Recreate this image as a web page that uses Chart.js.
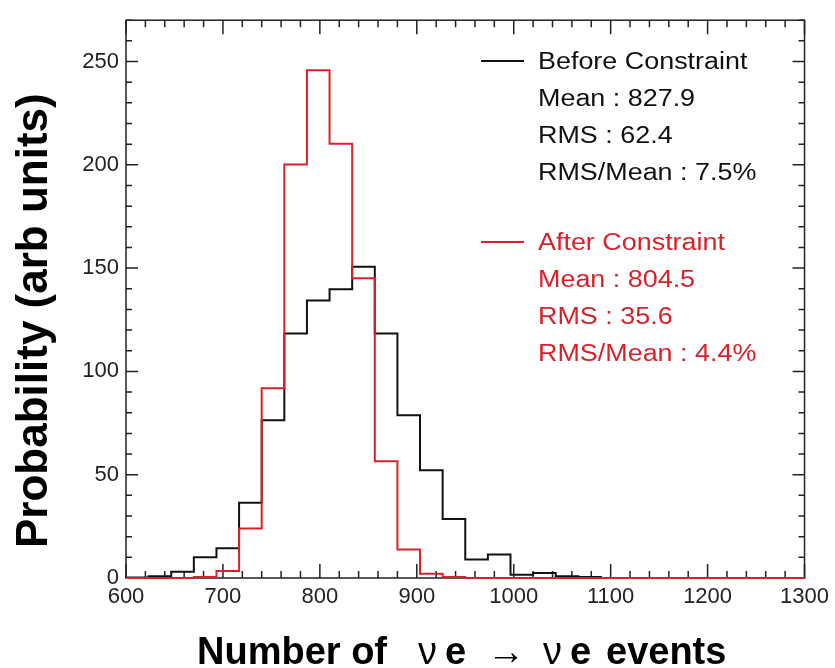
<!DOCTYPE html>
<html lang="en">
<head>
  <meta charset="UTF-8">
  <title>Number of nu e events</title>
  <script src="https://cdn.jsdelivr.net/npm/chart.js"></script>
  <style>
    html, body { margin: 0; padding: 0; background: #fff; }
    canvas { display: block; }
  </style>
</head>
<body>
  <canvas id="histChart" width="835" height="668"></canvas>

  <script>
    // histogram binning (30 bins from 600 to 1300)
    const xLow = 600;
    const xHigh = 1300;
    const nBins = 30;

    const xTicks = [600, 700, 800, 900, 1000, 1100, 1200, 1300];
    const yTicks = [0, 50, 100, 150, 200, 250];

    // bin contents
    const beforeCounts = [0.3, 0.8, 3, 10, 14.4, 36.4, 76.4, 118.4, 134.3, 139.8,
                          150.7, 118.4, 78.8, 52.1, 28.5, 9.0, 11.4, 1.6, 2.4, 0.8,
                          0.5, 0, 0, 0, 0, 0, 0, 0, 0, 0];
    const afterCounts  = [0, 0, 0, 0.5, 3.4, 24, 91.9, 200.2, 245.8, 210.2,
                          145.1, 56.5, 13.8, 2.1, 0.5, 0, 0, 0, 0, 0,
                          0, 0, 0, 0, 0, 0, 0, 0, 0, 0];

    const beforeStats = ['Before Constraint', 'Mean : 827.9', 'RMS : 62.4', 'RMS/Mean : 7.5%'];
    const afterStats  = ['After Constraint', 'Mean : 804.5', 'RMS : 35.6', 'RMS/Mean : 4.4%'];

    const BLACK = '#111111';
    const RED = '#d8222a';
    const FONT = "'Liberation Sans', Arial, Helvetica, sans-serif";

    const binWidth = (xHigh - xLow) / nBins;

    // step outline: one point per lower bin edge, plus the upper edge of the last bin
    function toSteps(counts) {
      const pts = counts.map((c, i) => ({ x: xLow + i * binWidth, y: c }));
      pts.push({ x: xHigh, y: counts[counts.length - 1] });
      return pts;
    }

    // frame + inward ticks on all four sides, ROOT style
    const frameTicks = {
      id: 'frameTicks',
      beforeDatasetsDraw(chart) {
        const { ctx, chartArea: a, scales: { x, y } } = chart;
        ctx.save();
        ctx.strokeStyle = '#222';
        ctx.lineWidth = 1.5;
        ctx.strokeRect(a.left, a.top, a.right - a.left, a.bottom - a.top);

        ctx.beginPath();
        for (let v = xLow; v <= xHigh; v += 20) {
          const px = x.getPixelForValue(v);
          const len = v % 100 === 0 ? 14 : 7;
          ctx.moveTo(px, a.bottom); ctx.lineTo(px, a.bottom - len);
          ctx.moveTo(px, a.top); ctx.lineTo(px, a.top + len);
        }
        for (let v = 0; v <= y.max; v += 10) {
          const py = y.getPixelForValue(v);
          const len = v % 50 === 0 ? 12 : 6;
          ctx.moveTo(a.left, py); ctx.lineTo(a.left + len, py);
          ctx.moveTo(a.right, py); ctx.lineTo(a.right - len, py);
        }
        ctx.stroke();
        ctx.restore();
      },
      afterDraw(chart) {
        const { ctx } = chart;
        ctx.save();

        // stats boxes
        function block(lines, color, baseY) {
          ctx.fillStyle = color;
          ctx.strokeStyle = color;
          ctx.lineWidth = 2;
          ctx.beginPath();
          ctx.moveTo(481, baseY - 8);
          ctx.lineTo(524, baseY - 8);
          ctx.stroke();
          ctx.font = '23px ' + FONT;
          ctx.textBaseline = 'alphabetic';
          lines.forEach((t, i) => {
            ctx.save();
            ctx.translate(538, baseY + i * 37);
            ctx.scale(1.17, 1);
            ctx.fillText(t, 0, 0);
            ctx.restore();
          });
        }
        block(beforeStats, BLACK, 69);
        block(afterStats, RED, 250);

        // y title
        ctx.save();
        ctx.translate(47, 548);
        ctx.rotate(-Math.PI / 2);
        ctx.fillStyle = '#000';
        ctx.font = 'bold 44px ' + FONT;
        ctx.textAlign = 'left';
        ctx.fillText('Probability (arb units)', 0, 0);
        ctx.restore();

        // x title: bold words, plain greek nu and arrow
        const parts = [
          ['Number of', 'bold', 197], ['\u03bd', 'normal', 418], ['e', 'bold', 445],
          ['\u2192', 'normal', 487], ['\u03bd', 'normal', 543], ['e', 'bold', 570],
          ['events', 'bold', 606]
        ];
        ctx.fillStyle = '#000';
        ctx.textBaseline = 'alphabetic';
        parts.forEach(([t, w, px]) => {
          ctx.font = w + ' 38px ' + FONT;
          ctx.fillText(t, px, 664);
        });
        ctx.restore();
      }
    };

    new Chart(document.getElementById('histChart'), {
      type: 'line',
      data: {
        datasets: [
          {
            label: 'Before Constraint',
            data: toSteps(beforeCounts),
            borderColor: BLACK,
            borderWidth: 2,
            stepped: 'before',
            pointRadius: 0,
            fill: false,
            clip: false,
            order: 2
          },
          {
            label: 'After Constraint',
            data: toSteps(afterCounts),
            borderColor: RED,
            borderWidth: 2,
            stepped: 'before',
            pointRadius: 0,
            fill: false,
            clip: false,
            order: 1
          }
        ]
      },
      options: {
        responsive: false,
        animation: false,
        layout: { padding: { top: 13, right: 29, left: 0, bottom: 0 } },
        plugins: {
          legend: { display: false },
          tooltip: { enabled: false }
        },
        scales: {
          x: {
            type: 'linear',
            min: xLow,
            max: xHigh,
            afterBuildTicks: s => { s.ticks = xTicks.map(v => ({ value: v })); },
            afterFit: s => { s.height = 90; },
            grid: { display: false, drawTicks: false },
            border: { display: false },
            ticks: {
              color: '#222',
              padding: 6,
              maxRotation: 0,
              font: { family: FONT, size: 22 },
              callback: v => String(v)
            }
          },
          y: {
            min: 0,
            max: 270,
            afterBuildTicks: s => { s.ticks = yTicks.map(v => ({ value: v })); },
            afterFit: s => { s.width = 126; },
            grid: { display: false, drawTicks: false },
            border: { display: false },
            ticks: {
              color: '#222',
              padding: 7,
              font: { family: FONT, size: 22 },
              callback: v => String(v)
            }
          }
        }
      },
      plugins: [frameTicks]
    });
  </script>
</body>
</html>
